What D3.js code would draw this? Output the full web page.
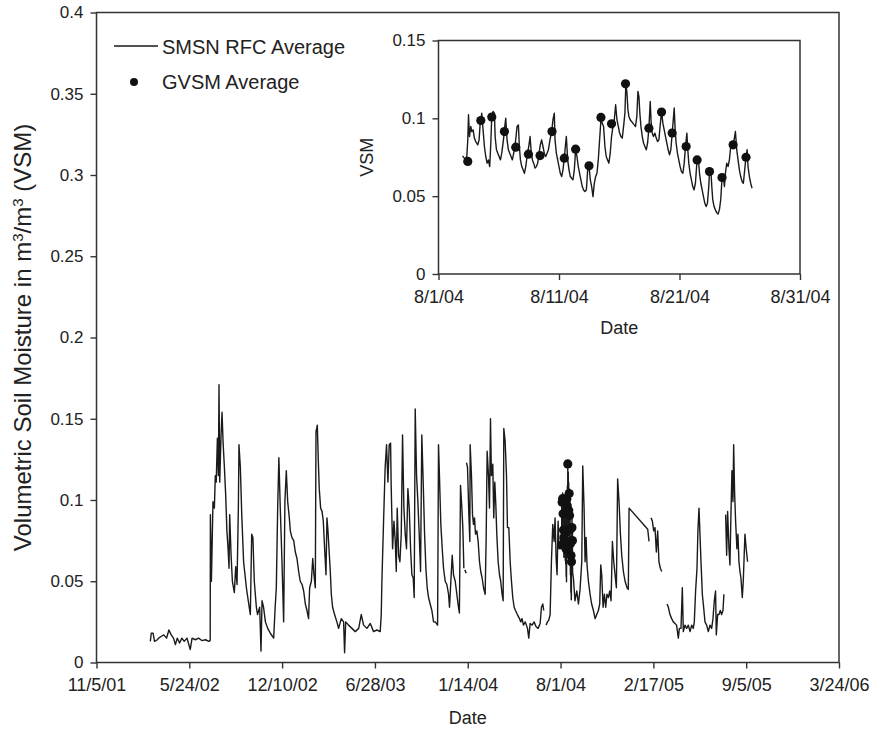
<!DOCTYPE html>
<html>
<head>
<meta charset="utf-8">
<script src="https://cdn.jsdelivr.net/npm/d3@7"></script>
<style>
  body { margin: 0; background: #fff; }
  svg { font-family: "Liberation Sans", Arial, Helvetica, sans-serif; }
  .axis line { stroke: #333; stroke-width: 1.4; }
  .axis text { fill: #222; font-size: 17px; }
  .x-axis text { font-size: 18px; }
  .title { fill: #222; font-size: 18px; }
  .legend text { fill: #222; font-size: 20px; }
</style>
</head>
<body>
<svg id="chart" width="871" height="733"></svg>
<script>
// ---- data ----
// main axis tick labels (every 200 days)
const mainTickLabels = ["11/5/01", "5/24/02", "12/10/02", "6/28/03", "1/14/04", "8/1/04", "2/17/05", "9/5/05", "3/24/06"];
const mainYTicks = [0, 0.05, 0.1, 0.15, 0.2, 0.25, 0.3, 0.35, 0.4];
const insetTickLabels = ["8/1/04", "8/11/04", "8/21/04", "8/31/04"];
const insetYTicks = [0, 0.05, 0.1, 0.15];

// SMSN RFC average, days since 11/5/01 (null = gap in record)
const rfcDay = [116,118,122,125,131,134,139,145,151,156,161,166,170,174,179,184,189,195,202,206,213,220,227,235,242,245,
  245.4,247.6,251,254,256,258,260.5,262.6,264,265.5,268.4,270.5,272.7,275.6,278.4,281,283.5,285.6,287,290,292.8,297,300,302.8,
  305.7,307,310,313,317,323,327,331.5,334.4,337,340,344.5,347,351.6,354.5,356.7,360,364,369,374.6,381.8,385,387.5,390.4,393,396,
  399.7,403.3,406,409,412,415.5,417.7,421,425,428.4,432,435.6,439,443,446.4,450,453.6,457,459.3,463,466,468.6,471.5,473,475.8,478,
  480,483,486,488.7,491.6,494.5,496.6,498.8,501,503.8,506,508.8,513,518,521.7,527.5,532.5,534.6,537,543,550.4,557.6,565,570.5,
  575.6,582.7,590,597,604,611.4,613.6,615,618.6,622,625,628,630.8,633.7,635,638,641,643.7,646,648,651,653.8,656.7,659.5,662.4,
  665.3,668,671,673.9,676.8,679.6,682.5,684.6,686.8,689.7,692.5,695.4,698.3,701,704,707,709.8,712.6,715.5,719,722.7,726.3,730,735,
  737,739,742,745,747.8,751.4,755,758.6,760.7,763.6,766.5,769.3,773,776.5,780,782,784.4,787.3,789.4,791.6,792.5,793.7,796.6,797,
  797.3,799.5,802.4,804.5,805.2,808,810.3,812.4,814.6,816.7,819.6,822.4,825.3,828,831,834,837.5,839.7,841.8,844.7,846.9,849,851,
  854,856,858.3,860.5,862.6,865.5,868.4,871,874,876.3,877.7,880.6,883.5,885.6,888.5,891.4,894.2,897,900,902.8,907,911.5,914.3,917,
  920,924,928.7,931.5,934.4,938.7,943,947.3,951.6,956,958.8,961.7,963.8,966,968.9,971.7,974.6,977.5,980.3,983.2,986,988.2,990.4,
  992.5,994.7,996.8,
  1027.7,1031,1035,1038.5,1042,1045.7,1047.8,1050.7,1052.8,1055,1057,1060,1063.6,1067,1070.8,1074.4,1078,1081.5,1084.4,1086.6,
  1088.7,1091.6,1094.5,1097.3,1100,1103,1106,1108.8,1111.7,1114.6,1117.4,1120.3,1123,1126,1129,1131.8,1135.4,1139,1143.3,1146,
  1147.6,1187.8,1190.6,1193,1195,1197.8,1200.7,1203.5,1206.4,1209.3,1212,1215,1218,1223,1229.4,1232.3,1235.8,1239.4,1243,1246.6,
  1250,1253.8,1256,1259.5,1262.4,1264.5,1268,1271.7,1275.3,1279,1282.5,1286,1288.2,1291,1294,1296,1298.3,1300.4,1302.6,1305.5,
  1308.3,1311.2,1314.8,1318.4,1322,1325.6,1328.4,1331.3,1334,1335.6,1338.5,1341.4,1344.2,1347,1350,1352,1354,1355.7,1357.9,1360,
  1362.9,1365,1367,1369.3,1371.5,1373,1375,1377.2,1380,1382.2,1384.4,1386.6,1388.7,1391.6,1393.7,1397.3,1400,1403];
const rfcVSM = [.013,.018,.018,.013,.014,.015,.016,.017,.015,.020,.017,.015,.011,.015,.012,.015,.013,.015,.008,.015,.014,.015,.0135,.014,.013,.0135,
  .091,.050,.099,.095,.115,.111,.138,.115,.171,.111,.140,.154,.136,.120,.103,.081,.070,.058,.091,.066,.050,.043,.059,.048,
  .095,.134,.120,.091,.062,.046,.038,.0295,.079,.077,.050,.034,.0295,.034,.007,.038,.034,.025,.021,.018,.015,.034,.046,.095,.126,.095,
  .062,.025,.099,.118,.099,.089,.081,.077,.075,.068,.064,.056,.050,.048,.044,.036,.032,.027,.046,.050,.064,.054,.046,.142,.146,.124,
  .107,.095,.093,.087,.070,.054,.089,.081,.070,.056,.042,.034,.0295,.025,.021,.027,.025,.006,.025,.023,.021,.019,.021,.0295,
  .023,.021,.024,.019,.020,.019,.0295,.050,.087,.120,.134,.111,.134,.135,.109,.070,.087,.075,.056,.095,.066,.062,.079,.140,.095,
  .079,.070,.107,.095,.070,.054,.052,.040,.156,.115,.099,.079,.056,.140,.111,.079,.058,.046,.040,.036,.032,.025,.025,.023,
  .134,.115,.085,.070,.058,.050,.048,.042,.034,.050,.066,.054,.050,.042,.034,.0305,.109,.095,.083,.058,null,.057,.055,null,
  .123,.120,.091,.0745,.134,.115,.091,.085,.089,.079,.081,.0745,.062,.056,.052,.046,.042,.077,.130,.115,.095,.150,.115,
  .122,.089,.111,.097,.079,.062,.054,.050,.042,.038,.144,.136,.115,.083,.083,.062,.050,.040,.034,.032,.0295,.027,.025,.027,
  .023,.025,.021,.015,.024,.023,.025,.022,.021,.024,.034,.036,.032,null,.023,.025,.026,.0295,.062,.085,.0745,.089,.064,
  .054,.087,.070,
  .052,.038,.044,.036,.045,.062,.121,.095,.062,.077,.060,.050,.042,.036,.032,.027,.0295,.032,.036,.060,
  .054,.034,.042,.034,.042,.040,.044,.038,.0745,.062,.054,.046,.113,.099,.079,.066,.056,.050,.046,.045,
  .095,.082,.0745,null,.089,.087,.081,.083,.068,.081,.062,.058,.056,null,.036,.034,.0295,.027,.025,.024,
  .023,.015,.021,.021,.046,.019,.023,.021,.023,.019,.023,.021,.025,.044,.058,.081,.095,.079,.062,.042,
  .034,.025,.023,.019,.023,.021,.027,.038,.044,.017,.0295,.0295,.032,.0295,.032,.042,null,.091,.066,.093,
  .070,.060,.089,.118,.099,.134,.105,.087,.070,.079,.062,.056,.052,.040,.050,.079,.070,.062];

// August 2004 detail of the RFC average, days since 8/1/04
const augDay = [1.99,2.21,2.35,2.43,2.49,2.57,2.68,2.76,2.87,2.98,3.09,3.26,3.37,3.45,3.59,3.70,3.81,3.92,4.03,4.14,4.25,4.34,
  4.42,4.53,4.64,4.70,4.81,4.92,5.03,5.14,5.25,5.39,5.47,5.58,5.69,5.80,5.91,6.02,6.13,6.24,6.35,6.52,6.63,6.71,6.80,6.91,7.02,
  7.13,7.24,7.35,7.51,7.60,7.68,7.79,7.90,8.01,8.12,8.23,8.34,8.45,8.56,8.67,8.78,8.90,9.01,9.12,9.25,9.39,9.50,9.61,9.67,9.78,
  9.89,10.00,10.11,10.22,10.33,10.44,10.55,10.61,10.72,10.83,10.94,11.05,11.16,11.27,11.38,11.49,11.60,11.71,11.82,11.93,12.04,
  12.15,12.27,12.38,12.49,12.60,12.71,12.82,12.93,13.04,13.15,13.26,13.37,13.48,13.59,13.70,13.81,13.92,14.03,14.14,14.25,14.36,
  14.48,14.59,14.70,14.81,14.92,15.03,15.14,15.25,15.36,15.47,15.55,15.64,15.72,15.80,15.91,16.02,16.13,16.24,16.35,16.46,16.55,
  16.63,16.71,16.80,16.91,17.02,17.13,17.24,17.35,17.46,17.57,17.65,17.73,17.84,17.96,18.07,18.18,18.29,18.40,18.51,18.62,18.73,
  18.84,18.95,19.06,19.17,19.28,19.39,19.56,19.64,19.72,19.83,19.94,20.05,20.16,20.28,20.39,20.50,20.61,20.69,20.77,20.88,20.99,
  21.10,21.21,21.32,21.46,21.55,21.66,21.77,21.88,21.99,22.10,22.21,22.32,22.43,22.49,22.60,22.68,22.76,22.87,22.98,23.09,23.20,
  23.31,23.42,23.53,23.64,23.73,23.81,23.92,24.03,24.14,24.25,24.42,24.53,24.64,24.75,24.86,24.97,25.08,25.19,25.30,25.41,25.52,
  25.61,25.69,25.80,25.91,26.02];
const augVSM = [.0759,.0738,.0755,.0862,.1023,.0883,.0948,.0915,.0926,.0873,.0851,.0830,.0862,.0958,.1033,.0926,.0819,.0755,.0712,.0733,.0690,.0840,
  .1012,.1044,.1033,.0883,.0798,.0776,.0755,.0733,.0776,.0862,.0926,.1001,.0862,.0798,.0776,.0755,.0733,.0776,.0819,.0948,.0958,.0819,.0733,.0690,.0669,
  .0647,.0690,.0755,.0830,.0883,.0798,.0733,.0712,.0680,.0690,.0712,.0776,.0830,.0862,.0819,.0776,.0755,.0776,.0798,.0862,.0915,.0991,.1033,.0862,.0776,
  .0733,.0690,.0647,.0626,.0669,.0744,.0840,.0883,.0733,.0669,.0626,.0615,.0605,.0669,.0798,.0755,.0690,.0647,.0605,.0562,.0540,
  .0530,.0540,.0669,.0695,.0605,.0562,.0497,.0583,.0626,.0647,.0733,.0862,.0991,.0969,.0948,.0819,.0755,.0733,.0712,.0776,.0883,
  .0948,.0991,.1087,.0991,.0948,.0905,.0883,.0873,.0948,.1033,.1226,.1162,.1055,.1012,.0991,.0980,.0969,.0958,.0948,.1012,.1173,
  .1141,.1033,.0948,.0883,.0840,.0819,.0798,.0840,.0937,.1108,.0969,.0905,.0883,.0905,.0873,.0851,.0862,.0958,.1044,.0969,.0926,
  .0883,.0840,.0798,.0765,.0798,.0900,.1066,.0926,.0840,.0776,.0733,.0690,.0658,.0647,.0712,.0819,.0905,.0798,.0712,.0647,.0605,
  .0562,.0540,.0583,.0733,.0755,.0647,.0583,.0540,.0497,.0455,.0433,.0455,.0562,.0658,.0669,.0562,.0476,.0433,.0412,.0394,.0386,
  .0412,.0476,.0615,.0626,.0562,.0647,.0712,.0690,.0733,.0819,.0840,.0862,.0915,.0798,.0733,.0669,.0626,.0594,.0583,.0669,.0755,
  .0798,.0690,.0626,.0583,.0551];

// GVSM average samples, days since 8/1/04
const gvsmDay = [2.43,3.51,4.42,5.47,6.41,7.46,8.43,9.42,10.44,11.38,12.49,13.48,14.36,15.52,17.46,18.51,19.39,20.55,21.46,22.49,23.53,24.45,25.52];
const gvsmVSM = [.0723,.0986,.1008,.0915,.0815,.0770,.0761,.0915,.0744,.0802,.0695,.1006,.0965,.1222,.0937,.1040,.0905,.0819,.0733,.0658,.0620,.0830,.0750];

// ---- helpers ----
const parseTick = d3.timeParse("%m/%d/%y");
const dayMs = 864e5;
const mainStart = parseTick(mainTickLabels[0]);
const augStart = parseTick(insetTickLabels[0]);
const plusDays = (base, d) => new Date(base.getTime() + d * dayMs);
const fmtY = d => d === 0 ? "0" : String(d);

const rfcPts = rfcDay.map((d, i) => ({date: plusDays(mainStart, d), v: rfcVSM[i]}));
const augPts = augDay.map((d, i) => ({date: plusDays(augStart, d), v: augVSM[i]}));
const gvsmPts = gvsmDay.map((d, i) => ({date: plusDays(augStart, d), v: gvsmVSM[i]}));
// full record = coarse record with the August detail slotted in
const mainPts = rfcPts.concat(augPts).sort((a, b) => a.date - b.date);

const svg = d3.select("#chart");

// ---- main chart ----
const main = {left: 96.5, right: 839, top: 12.5, bottom: 662.5};

const x = d3.scaleTime()
    .domain([parseTick(mainTickLabels[0]), parseTick(mainTickLabels[mainTickLabels.length - 1])])
    .range([main.left, main.right]);
const y = d3.scaleLinear().domain([0, 0.4]).range([main.bottom, main.top]);

svg.append("g")
    .attr("class", "axis x-axis")
    .attr("transform", `translate(0,${main.bottom})`)
    .call(d3.axisBottom(x)
        .tickValues(mainTickLabels.map(parseTick))
        .tickFormat((d, i) => mainTickLabels[i])
        .tickSize(6).tickSizeOuter(0).tickPadding(10))
    .call(g => g.select(".domain").remove());

svg.append("g")
    .attr("class", "axis")
    .attr("transform", `translate(${main.left},0)`)
    .call(d3.axisLeft(y)
        .tickValues(mainYTicks)
        .tickFormat(fmtY)
        .tickSize(6).tickSizeOuter(0).tickPadding(7))
    .call(g => g.select(".domain").remove());

svg.append("rect")
    .attr("x", main.left).attr("y", main.top)
    .attr("width", main.right - main.left).attr("height", main.bottom - main.top)
    .attr("fill", "none").attr("stroke", "#333").attr("stroke-width", 1.5);

const mainLine = d3.line()
    .defined(d => d.v != null)
    .x(d => x(d.date))
    .y(d => y(d.v));

svg.append("path")
    .datum(mainPts)
    .attr("d", mainLine)
    .attr("fill", "none")
    .attr("stroke", "#1a1a1a")
    .attr("stroke-width", 1.4)
    .attr("stroke-linejoin", "round");

svg.append("g").selectAll("circle")
    .data(gvsmPts)
    .join("circle")
    .attr("cx", d => x(d.date))
    .attr("cy", d => y(d.v))
    .attr("r", 4.6)
    .attr("fill", "#111");

// axis titles
svg.append("text")
    .attr("class", "title")
    .attr("x", (main.left + main.right) / 2)
    .attr("y", 724)
    .attr("text-anchor", "middle")
    .text("Date");

const yTitle = svg.append("text")
    .attr("class", "title")
    .style("font-size", "24px")
    .attr("transform", `translate(31,${(main.top + main.bottom) / 2}) rotate(-90)`)
    .attr("text-anchor", "middle");
yTitle.append("tspan").text("Volumetric Soil Moisture in m");
yTitle.append("tspan").attr("baseline-shift", "super").style("font-size", "15px").text("3");
yTitle.append("tspan").text("/m");
yTitle.append("tspan").attr("baseline-shift", "super").style("font-size", "15px").text("3");
yTitle.append("tspan").text(" (VSM)");

// legend
const legend = svg.append("g").attr("class", "legend");
legend.append("line")
    .attr("x1", 114).attr("x2", 158).attr("y1", 46).attr("y2", 46)
    .attr("stroke", "#1a1a1a").attr("stroke-width", 1.4);
legend.append("text").attr("x", 162).attr("y", 54).text("SMSN RFC Average");
legend.append("circle").attr("cx", 134).attr("cy", 82).attr("r", 4).attr("fill", "#111");
legend.append("text").attr("x", 162).attr("y", 89).text("GVSM Average");

// ---- inset ----
const ins = {left: 438.5, right: 800, top: 40.5, bottom: 274};

const xi = d3.scaleTime()
    .domain([parseTick(insetTickLabels[0]), parseTick(insetTickLabels[insetTickLabels.length - 1])])
    .range([ins.left, ins.right]);
const yi = d3.scaleLinear().domain([0, 0.15]).range([ins.bottom, ins.top]);

svg.append("rect")
    .attr("x", ins.left).attr("y", ins.top)
    .attr("width", ins.right - ins.left).attr("height", ins.bottom - ins.top)
    .attr("fill", "#fff");

svg.append("g")
    .attr("class", "axis x-axis")
    .attr("transform", `translate(0,${ins.bottom})`)
    .call(d3.axisBottom(xi)
        .tickValues(insetTickLabels.map(parseTick))
        .tickFormat((d, i) => insetTickLabels[i])
        .tickSize(6).tickSizeOuter(0).tickPadding(10))
    .call(g => g.select(".domain").remove());

svg.append("g")
    .attr("class", "axis")
    .attr("transform", `translate(${ins.left},0)`)
    .call(d3.axisLeft(yi)
        .tickValues(insetYTicks)
        .tickFormat(fmtY)
        .tickSize(6).tickSizeOuter(0).tickPadding(7))
    .call(g => g.select(".domain").remove());

svg.append("rect")
    .attr("x", ins.left).attr("y", ins.top)
    .attr("width", ins.right - ins.left).attr("height", ins.bottom - ins.top)
    .attr("fill", "none").attr("stroke", "#333").attr("stroke-width", 1.5);

const insetLine = d3.line()
    .x(d => xi(d.date))
    .y(d => yi(d.v));

svg.append("path")
    .datum(augPts)
    .attr("d", insetLine)
    .attr("fill", "none")
    .attr("stroke", "#1a1a1a")
    .attr("stroke-width", 1.4)
    .attr("stroke-linejoin", "round");

svg.append("g").selectAll("circle")
    .data(gvsmPts)
    .join("circle")
    .attr("cx", d => xi(d.date))
    .attr("cy", d => yi(d.v))
    .attr("r", 4.6)
    .attr("fill", "#111");

svg.append("text")
    .attr("class", "title")
    .attr("x", (ins.left + ins.right) / 2)
    .attr("y", 334)
    .attr("text-anchor", "middle")
    .text("Date");

svg.append("text")
    .attr("class", "title")
    .attr("transform", `translate(373,${(ins.top + ins.bottom) / 2}) rotate(-90)`)
    .attr("text-anchor", "middle")
    .text("VSM");
</script>
</body>
</html>
